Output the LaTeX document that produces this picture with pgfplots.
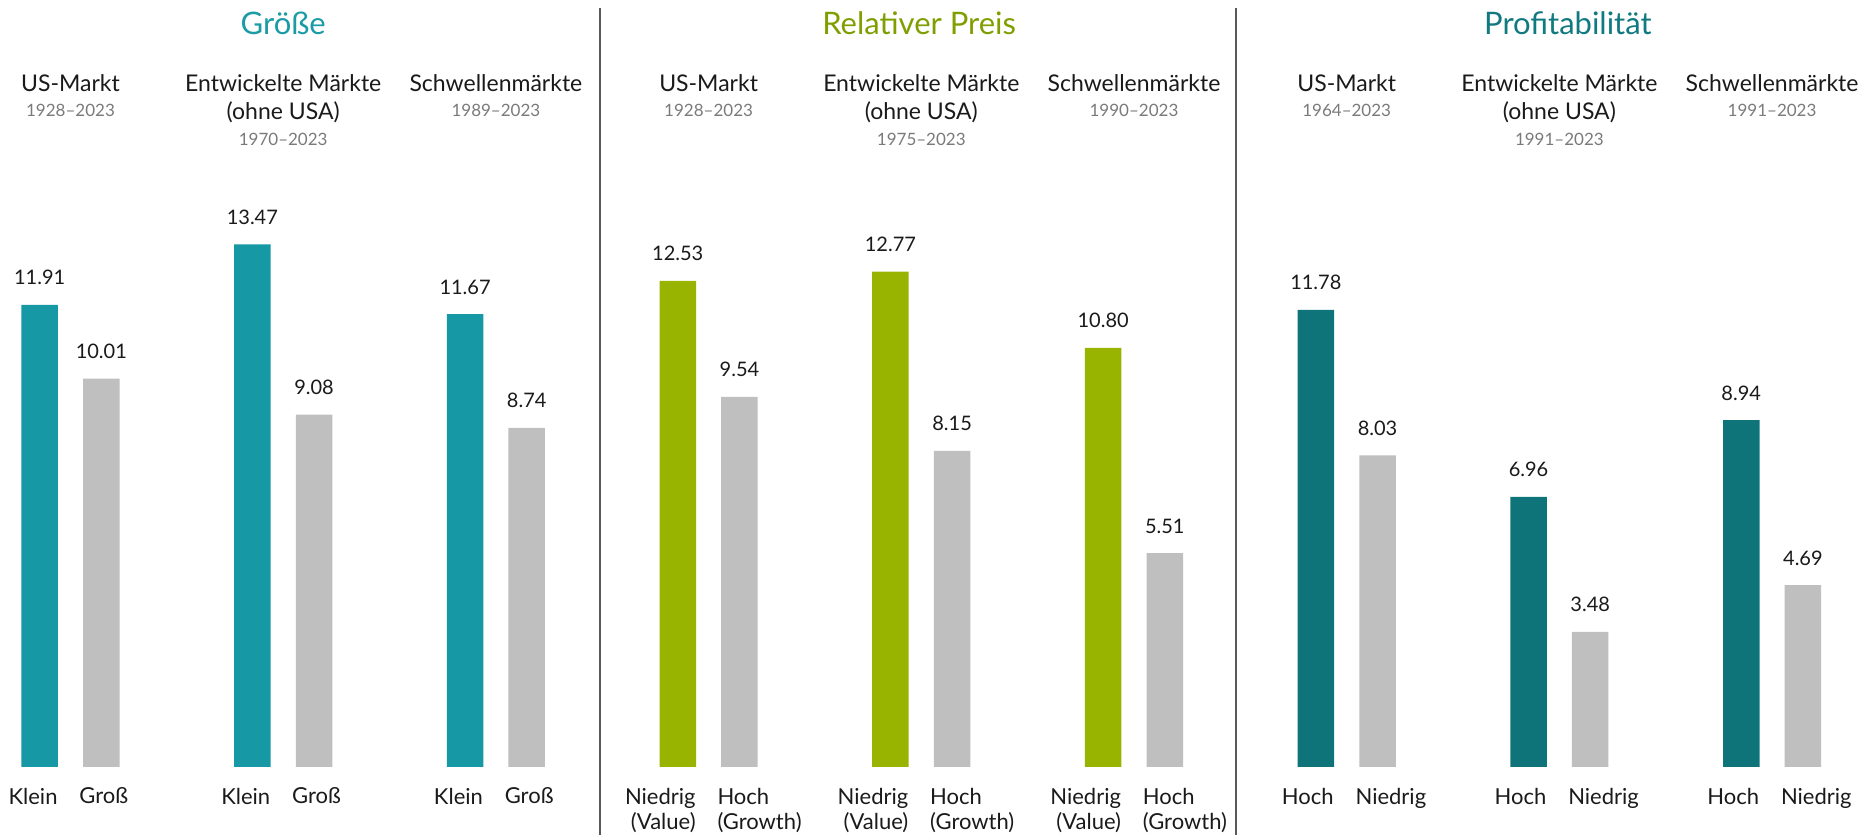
\documentclass[border=0pt]{standalone}
\usepackage{pgfplots}
\pgfplotsset{compat=1.18}
\usepackage{fontspec}
\setmainfont{Lato}
\definecolor{cteal}{HTML}{1698A5}
\definecolor{cgreen}{HTML}{98B400}
\definecolor{cdark}{HTML}{0F747A}
\definecolor{cgray}{HTML}{BFBFBF}
\definecolor{tteal}{HTML}{1A9BA6}
\definecolor{tgreen}{HTML}{7F9F00}
\definecolor{tdark}{HTML}{117A80}
\definecolor{textc}{HTML}{1A1A1A}
\definecolor{yearc}{HTML}{7A7A7A}
\definecolor{sepc}{HTML}{595959}
\newcommand{\ttl}{\fontsize{15.5}{18}\selectfont}
\newcommand{\hdr}{\fontsize{11.5}{13}\selectfont}
\newcommand{\yr}{\fontsize{8.5}{10}\selectfont}
\begin{document}
\begin{tikzpicture}
\begin{axis}[
  width=929pt, height=383.5pt, scale only axis,
  xmin=-0.3315, xmax=8.404, ymin=0, ymax=19.768,
  clip=false,
  axis line style={draw=none}, tick style={draw=none},
  ytick=\empty,
  xtick={-0.0592,0.9408,1.9408,2.9408,3.9408,4.9408,5.9408,6.9408,7.9408},
  xticklabels={Klein,Klein,Klein,{Niedrig\\(Value)},{Niedrig\\(Value)},{Niedrig\\(Value)},Hoch,Hoch,Hoch},
  xticklabel style={anchor=north east, yshift=-6pt, inner sep=0pt, align=right, font=\fontsize{11}{12.5}\selectfont, text=textc},
  extra x ticks={0.040,1.040,2.040,3.040,4.040,5.040,6.040,7.040,8.040},
  extra x tick labels={Groß,Groß,Groß,{Hoch\\(Growth)},{Hoch\\(Growth)},{Hoch\\(Growth)},Niedrig,Niedrig,Niedrig},
  extra x tick style={xticklabel style={anchor=north west, align=left}},
  ybar, bar width=0.1716, bar shift=0pt,
  /pgf/number format/assume math mode=true,
  nodes near coords={\pgfmathprintnumber[fixed,fixed zerofill,precision=2]{\pgfplotspointmeta}},
  every node near coord/.append style={anchor=base, yshift=10pt, font=\fontsize{10}{12}\selectfont, text=textc, inner sep=0pt},
]
\addplot[fill=cteal, draw=none] coordinates {(-0.145,11.91) (0.855,13.47) (1.855,11.67)};
\addplot[fill=cgreen, draw=none] coordinates {(2.855,12.53) (3.855,12.77) (4.855,10.80)};
\addplot[fill=cdark, draw=none] coordinates {(5.855,11.78) (6.855,6.96) (7.855,8.94)};
\addplot[fill=cgray, draw=none] coordinates {(0.145,10.01) (1.145,9.08) (2.145,8.74) (3.145,9.54) (4.145,8.15) (5.145,5.51) (6.145,8.03) (7.145,3.48) (8.145,4.69)};

% separators
\draw[sepc, line width=0.8pt] (axis cs:2.489,19.56) -- (axis cs:2.489,-1.7526);
\draw[sepc, line width=0.8pt] (axis cs:5.48,19.56) -- (axis cs:5.48,-1.7526);

% panel titles
\node[anchor=base, text=tteal, font=\ttl] at (axis cs:1,18.866) {Größe};
\node[anchor=base, text=tgreen, font=\ttl] at (axis cs:3.99,18.866) {Relativer Preis};
\node[anchor=base, text=tdark, font=\ttl] at (axis cs:7.04,18.866) {Profitabilität};

% headers
\node[anchor=base, text=textc, font=\hdr] at (axis cs:0,17.405) {US-Markt};
\node[anchor=base, text=yearc, font=\yr] at (axis cs:0,16.77) {1928–2023};
\node[anchor=base, text=textc, font=\hdr] at (axis cs:1,17.405) {Entwickelte Märkte};
\node[anchor=base, text=textc, font=\hdr] at (axis cs:1,16.70) {(ohne USA)};
\node[anchor=base, text=yearc, font=\yr] at (axis cs:1,16.03) {1970–2023};
\node[anchor=base, text=textc, font=\hdr] at (axis cs:2,17.405) {Schwellenmärkte};
\node[anchor=base, text=yearc, font=\yr] at (axis cs:2,16.77) {1989–2023};

\node[anchor=base, text=textc, font=\hdr] at (axis cs:3,17.405) {US-Markt};
\node[anchor=base, text=yearc, font=\yr] at (axis cs:3,16.77) {1928–2023};
\node[anchor=base, text=textc, font=\hdr] at (axis cs:4,17.405) {Entwickelte Märkte};
\node[anchor=base, text=textc, font=\hdr] at (axis cs:4,16.70) {(ohne USA)};
\node[anchor=base, text=yearc, font=\yr] at (axis cs:4,16.03) {1975–2023};
\node[anchor=base, text=textc, font=\hdr] at (axis cs:5,17.405) {Schwellenmärkte};
\node[anchor=base, text=yearc, font=\yr] at (axis cs:5,16.77) {1990–2023};

\node[anchor=base, text=textc, font=\hdr] at (axis cs:6,17.405) {US-Markt};
\node[anchor=base, text=yearc, font=\yr] at (axis cs:6,16.77) {1964–2023};
\node[anchor=base, text=textc, font=\hdr] at (axis cs:7,17.405) {Entwickelte Märkte};
\node[anchor=base, text=textc, font=\hdr] at (axis cs:7,16.70) {(ohne USA)};
\node[anchor=base, text=yearc, font=\yr] at (axis cs:7,16.03) {1991–2023};
\node[anchor=base, text=textc, font=\hdr] at (axis cs:8,17.405) {Schwellenmärkte};
\node[anchor=base, text=yearc, font=\yr] at (axis cs:8,16.77) {1991–2023};

\coordinate (SW) at (axis cs:-0.3315,-1.7526);
\coordinate (NE) at (axis cs:8.404,19.768);
\end{axis}
\pgfresetboundingbox
\useasboundingbox (SW) rectangle (NE);
\end{tikzpicture}
\end{document}
